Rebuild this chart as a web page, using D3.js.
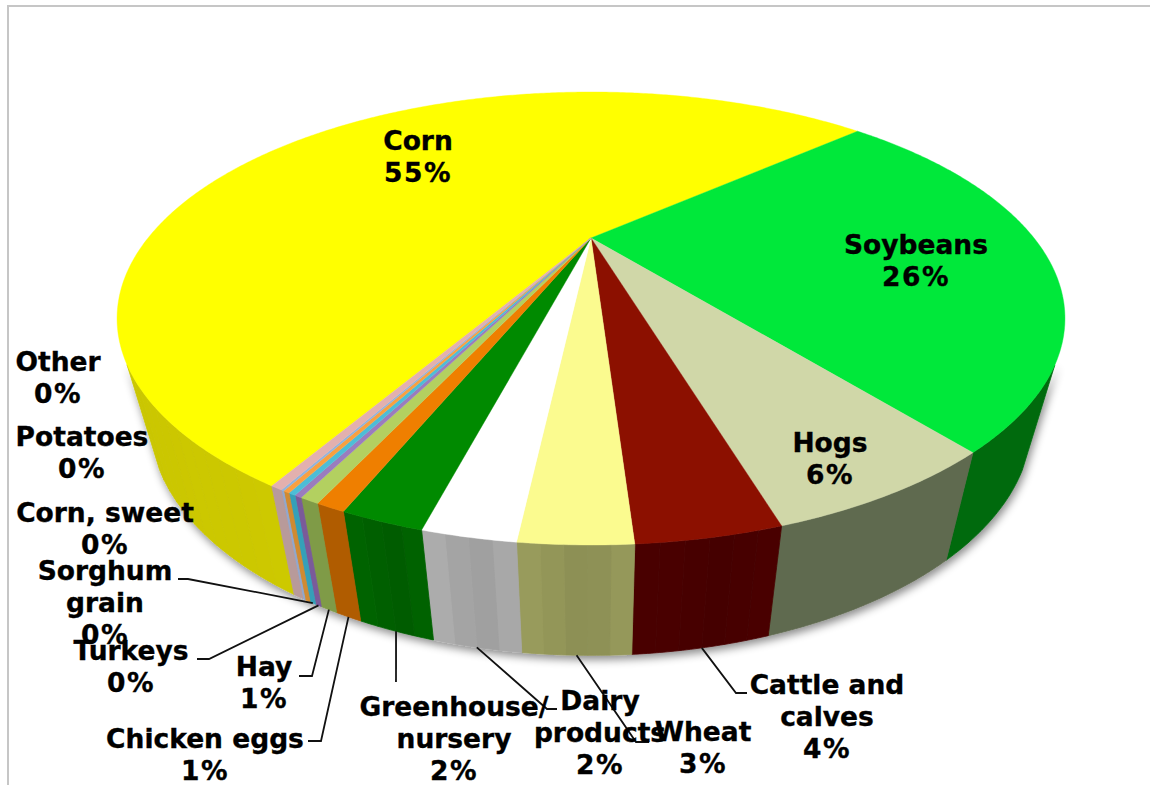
<!DOCTYPE html>
<html>
<head>
<meta charset="utf-8">
<script src="https://cdn.jsdelivr.net/npm/d3@7"></script>
<style>
  html, body { margin: 0; padding: 0; background: #fff; }
  svg { display: block; }
  text { font-family: "DejaVu Sans", Verdana, sans-serif; font-weight: bold; font-size: 26.5px; fill: #000; stroke: #000; stroke-width: 0.35px; text-anchor: middle; }
  text.pct { letter-spacing: 1.5px; }
</style>
</head>
<body>
<svg id="chart" width="1150" height="785"></svg>
<script>
// values, clockwise from the start of Corn
var categories = ["Corn", "Soybeans", "Hogs", "Cattle and calves", "Wheat", "Dairy products",
  "Greenhouse/ nursery", "Chicken eggs", "Hay", "Turkeys", "Sorghum grain", "Corn, sweet", "Potatoes", "Other"];
var shares = [55.05, 25.94, 6.11, 3.56, 2.75, 2.3, 2.08, 0.75, 0.5, 0.19, 0.19, 0.17, 0.08, 0.31];
var topColors = ["#ffff00", "#00e83a", "#d0d7a8", "#8c1000", "#fbfb8f", "#ffffff", "#008a00",
  "#ef7f00", "#b3d060", "#9a7cbe", "#4dbdd6", "#f9a040", "#93b4dc", "#e3b0ae"];
var wallColors = ["#c9c500", "#006b10", "#5f6a4f", "#470300", "#929558", "#a6a6a6", "#006000",
  "#b05c00", "#7f9b46", "#7a5a9a", "#36a0b8", "#d08a30", "#90a8d0", "#b89a9a"];
// how strong the vertical bands are on each wall (the big flat slices have none)
var wallBanding = [0.02, 0, 0, 0.03, 0.04, 0.04, 0.05, 0, 0, 0, 0, 0, 0, 0];

// label placement: text lines with centre x and baselines, then the leader elbow and end
var labelLayout = [
  { name: "Corn", lines: ["Corn"], x: 418, y: 150 },
  { name: "Soybeans", lines: ["Soybeans"], x: 916, y: 254 },
  { name: "Hogs", lines: ["Hogs"], x: 830, y: 452 },
  { name: "Cattle and calves", lines: ["Cattle and", "calves"], x: 827, y: 694, leader: [[736, 693], [747, 693]] },
  { name: "Wheat", lines: ["Wheat"], x: 703, y: 741, leader: [[636, 742], [649, 742]] },
  { name: "Dairy products", lines: ["Dairy", "products"], x: 600, y: 710, leader: [[547, 709], [557, 709]] },
  { name: "Greenhouse/ nursery", lines: ["Greenhouse/", "nursery"], x: 454, y: 716, leader: [[396, 682]] },
  { name: "Chicken eggs", lines: ["Chicken eggs"], x: 205, y: 748, leader: [[321, 741], [308, 741]] },
  { name: "Hay", lines: ["Hay"], x: 264, y: 676, leader: [[312, 676], [299, 676]] },
  { name: "Turkeys", lines: ["Turkeys"], x: 131, y: 660, leader: [[209, 659], [197, 659]] },
  { name: "Sorghum grain", lines: ["Sorghum", "grain"], x: 105, y: 580, leader: [[188, 579], [178, 579]] },
  { name: "Corn, sweet", lines: ["Corn, sweet"], x: 105, y: 522 },
  { name: "Potatoes", lines: ["Potatoes"], x: 82, y: 446 },
  { name: "Other", lines: ["Other"], x: 58, y: 371 }
];

var lineStep = 32;
var toRad = Math.PI / 180;
var startDeg = 209.9;

var svg = d3.select("#chart");

var defs = svg.append("defs");
var shadow = defs.append("filter").attr("id", "wallShadow")
  .attr("filterUnits", "userSpaceOnUse")
  .attr("x", 0).attr("y", 0).attr("width", 1150).attr("height", 785);
shadow.append("feDropShadow")
  .attr("dx", 2).attr("dy", 4).attr("stdDeviation", 4)
  .attr("flood-color", "#000").attr("flood-opacity", 0.45);

// frame
svg.append("path")
  .attr("d", "M8,785V6H1150")
  .attr("fill", "none").attr("stroke", "#c6c6c6").attr("stroke-width", 2);

// tilted disc: a circle seen in perspective, centre at the apex of the slices
var cx = 591, cy = 238, persp = -0.3554;
var rx = d3.scaleLinear().domain([-1, 1]).range([-443, 443]);
var ryA = 113.3;

function rimTop(a) {
  var u = Math.sin(a), v = -Math.cos(a), w = 1 + persp * v;
  return [cx + rx(u) / w, (ryA * v + cy) / w];
}
function rimBottom(a) {
  var p = rimTop(a);
  return [cx + 0.93 * (p[0] - cx), 1.03 * p[1] + 94];
}
function sampleAngles(a0, a1, step) {
  var n = Math.max(1, Math.ceil((a1 - a0) / step)), out = [];
  for (var i = 0; i <= n; i++) out.push(a0 + (a1 - a0) * i / n);
  return out;
}

var pie = d3.pie().sort(null)
  .startAngle(startDeg * toRad)
  .endAngle(startDeg * toRad + 2 * Math.PI);
var arcs = pie(shares);
var line = d3.line();

// side wall; banded slices get a few wide bands, the rest one flat colour
var walls = svg.append("g").attr("filter", "url(#wallShadow)");
arcs.forEach(function(d, i) {
  var bandStep = wallBanding[i] > 0 ? 2.4 * toRad : 400 * toRad;
  var edges = sampleAngles(d.startAngle, d.endAngle, bandStep);
  for (var k = 0; k < edges.length - 1; k++) {
    var t = (k + 0.5) / (edges.length - 1);
    var col = d3.hsl(wallColors[i]);
    col.l = col.l * (1 + wallBanding[i] * Math.cos(t * Math.PI * 2 + 0.4));
    var pts = sampleAngles(edges[k], edges[k + 1], 0.4 * toRad)
      .filter(function(a) { return -Math.cos(a) > 0.52; });
    if (pts.length < 2) continue;
    var poly = pts.map(rimTop).concat(pts.slice().reverse().map(rimBottom));
    walls.append("path")
      .attr("d", line(poly) + "Z")
      .attr("fill", col.formatHex())
      .attr("stroke", col.formatHex())
      .attr("stroke-width", 0.8);
  }
});

// top face
svg.append("g").selectAll("path")
  .data(arcs)
  .join("path")
  .attr("d", function(d) {
    var pts = sampleAngles(d.startAngle, d.endAngle, 0.5 * toRad).map(rimTop);
    return line([[cx, cy]].concat(pts)) + "Z";
  })
  .attr("fill", function(d, i) { return topColors[i]; })
  .attr("stroke", function(d, i) { return topColors[i]; })
  .attr("stroke-width", 0.4);

// leader lines
var leaderG = svg.append("g");
labelLayout.forEach(function(lab) {
  if (!lab.leader) return;
  var d = arcs[categories.indexOf(lab.name)];
  var from = rimBottom((d.startAngle + d.endAngle) / 2);
  leaderG.append("path")
    .attr("d", line([from].concat(lab.leader)))
    .attr("fill", "none").attr("stroke", "#111").attr("stroke-width", 1.8);
});

// labels, name lines then the rounded percentage
var labelG = svg.append("g");
labelLayout.forEach(function(lab) {
  var value = shares[categories.indexOf(lab.name)];
  lab.lines.forEach(function(row, r) {
    labelG.append("text")
      .attr("x", lab.x)
      .attr("y", lab.y + r * lineStep)
      .text(row);
  });
  labelG.append("text")
    .attr("class", "pct")
    .attr("x", lab.x)
    .attr("y", lab.y + lab.lines.length * lineStep)
    .text(Math.round(value) + "%");
});
</script>
</body>
</html>
